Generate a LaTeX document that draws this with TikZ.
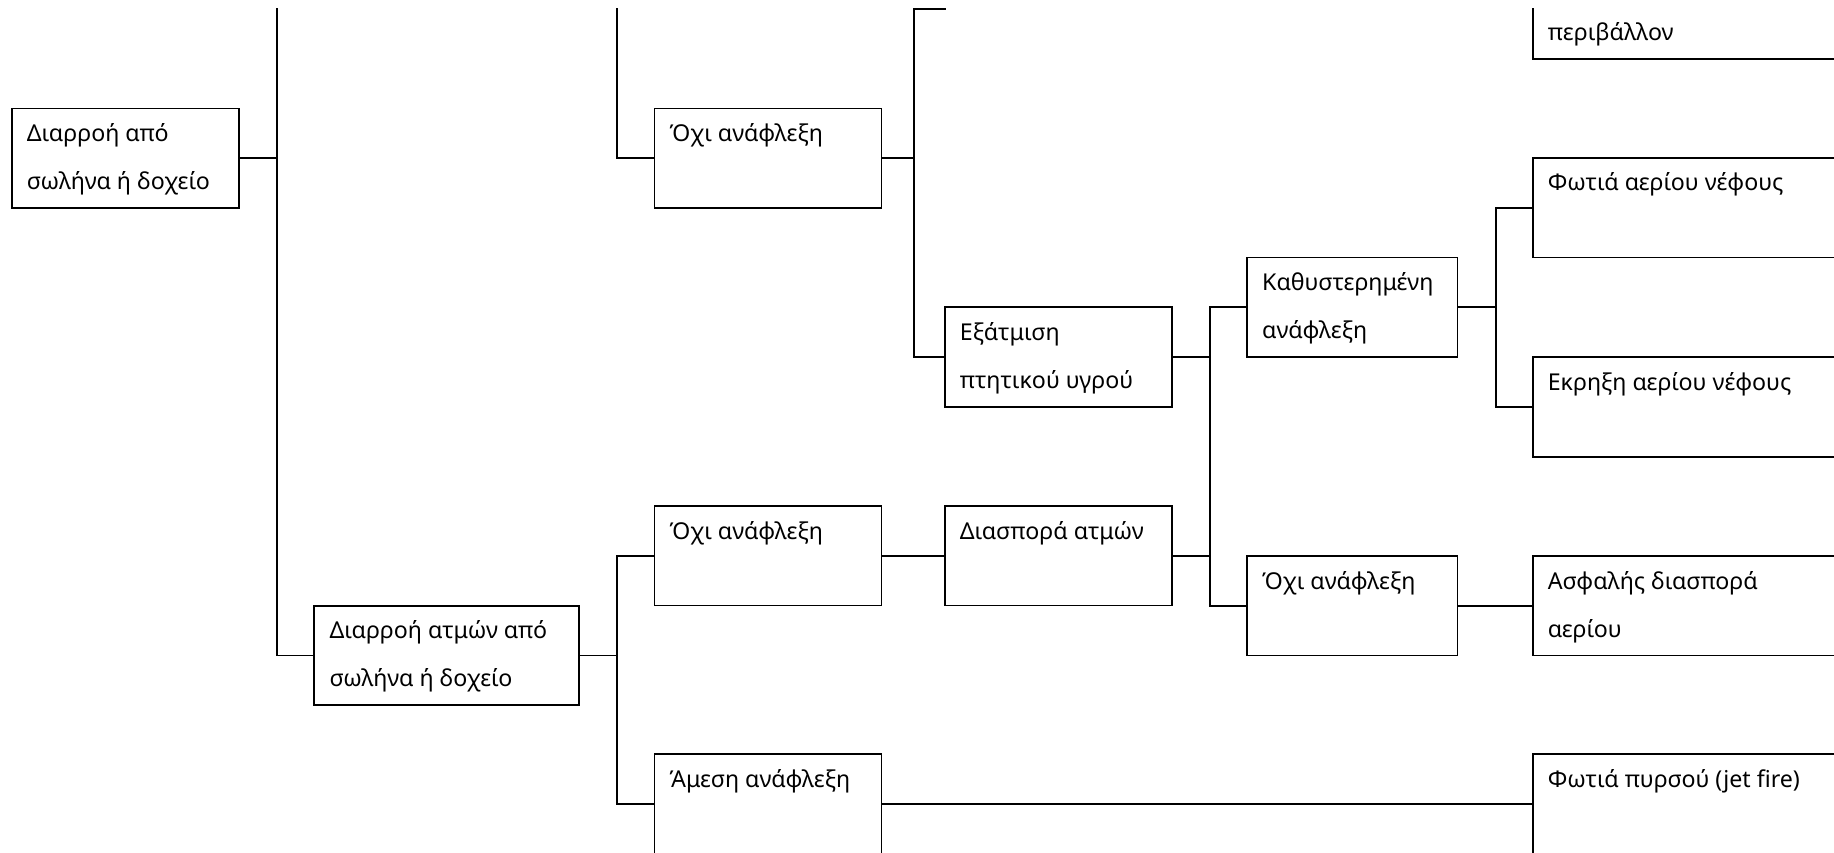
\documentclass[tikz,border=0pt]{standalone}
\usepackage{fontspec}
\setmainfont{Noto Sans}
\begin{document}
\begin{tikzpicture}[x=1pt,y=-1pt,
  box/.style={draw=black,line width=1.8pt,inner sep=0pt,outer sep=0pt,anchor=north west,minimum height=99.5pt},
  wA/.style={minimum width=227pt},
  wC/.style={minimum width=265pt},
  wK/.style={minimum width=210.5pt},
  wR/.style={minimum width=340pt},
  txt/.style={anchor=base west,inner sep=0pt,font=\fontsize{23.2pt}{27pt}\selectfont},
  con/.style={line width=1.8pt,line cap=rect}]
\useasboundingbox (0,0) rectangle (1834,853);
\clip (0,8.3) rectangle (1834,853);
% line x positions
\coordinate (L1) at (276.8,8.3);
\coordinate (L2) at (616.7,8.3);
\coordinate (L3) at (913.6,9.3);
\coordinate (T3) at (944.7,9.3);
\coordinate (L4) at (1209.7,0);
\coordinate (L5) at (616.7,0);
\coordinate (L6) at (1495.6,0);
% boxes
\node[box,wA] (A) at (11.7,108.5) {};
\node[box,wA] (B) at (654.5,108.5) {};
\node[box,wC] (C) at (314.3,605.7) {};
\node[box,wA] (X) at (944.7,307.3) {};
\node[box,wK] (K) at (1247,257.4) {};
\node[box,wR] (P0) at (1532.6,-40.5) {};
\node[box,wR] (P1) at (1532.6,158) {};
\node[box,wR] (P2) at (1532.6,357.3) {};
\node[box,wA] (D) at (654.5,506) {};
\node[box,wA] (E) at (654.5,754.3) {};
\node[box,wA] (F) at (944.7,506) {};
\node[box,wK] (G) at (1247,556) {};
\node[box,wR] (H) at (1532.6,556) {};
\node[box,wR] (I) at (1532.6,754.3) {};
% texts
\node[txt] at ([shift={(15,33)}]A.north west) {Διαρροή από};
\node[txt] at ([shift={(15,81)}]A.north west) {σωλήνα ή δοχείο};
\node[txt] at ([shift={(15,33)}]B.north west) {Όχι ανάφλεξη};
\node[txt] at ([shift={(15,33)}]C.north west) {Διαρροή ατμών από};
\node[txt] at ([shift={(15,81)}]C.north west) {σωλήνα ή δοχείο};
\node[txt] at ([shift={(15,33)}]X.north west) {Εξάτμιση};
\node[txt] at ([shift={(15,81)}]X.north west) {πτητικού υγρού};
\node[txt] at ([shift={(15,33)}]K.north west) {Καθυστερημένη};
\node[txt] at ([shift={(15,81)}]K.north west) {ανάφλεξη};
\node[txt] at ([shift={(15,81)}]P0.north west) {περιβάλλον};
\node[txt] at ([shift={(15,33)}]P1.north west) {Φωτιά αερίου νέφους};
\node[txt] at ([shift={(15,33)}]P2.north west) {Εκρηξη αερίου νέφους};
\node[txt] at ([shift={(15,33)}]D.north west) {Όχι ανάφλεξη};
\node[txt] at ([shift={(15,33)}]E.north west) {Άμεση ανάφλεξη};
\node[txt] at ([shift={(15,33)}]F.north west) {Διασπορά ατμών};
\node[txt] at ([shift={(15,33)}]G.north west) {Όχι ανάφλεξη};
\node[txt] at ([shift={(15,33)}]H.north west) {Ασφαλής διασπορά};
\node[txt] at ([shift={(15,81)}]H.north west) {αερίου};
\node[txt] at ([shift={(15,33)}]I.north west) {Φωτιά πυρσού (jet fire)};
% connectors
\draw[con] (A.east) -- (A.east -| L1);
\draw[con] (L1) -- (C.west -| L1) -- (C.west);
\draw[con] (L2) -- (B.west -| L2) -- (B.west);
\draw[con] (B.east) -- (B.east -| L3);
\draw[con] (T3) -- (L3) -- (X.west -| L3) -- (X.west);
\draw[con] (X.east) -- (X.east -| L4);
\draw[con] (F.east) -- (F.east -| L4);
\draw[con] (K.west) -- (K.west -| L4) -- (G.west -| L4) -- (G.west);
\draw[con] (K.east) -- (K.east -| L6);
\draw[con] (P1.west) -- (P1.west -| L6) -- (P2.west -| L6) -- (P2.west);
\draw[con] (C.east) -- (C.east -| L5);
\draw[con] (D.west) -- (D.west -| L5) -- (E.west -| L5) -- (E.west);
\draw[con] (D.east) -- (F.west);
\draw[con] (G.east) -- (H.west);
\draw[con] (E.east) -- (I.west);
\end{tikzpicture}
\end{document}
